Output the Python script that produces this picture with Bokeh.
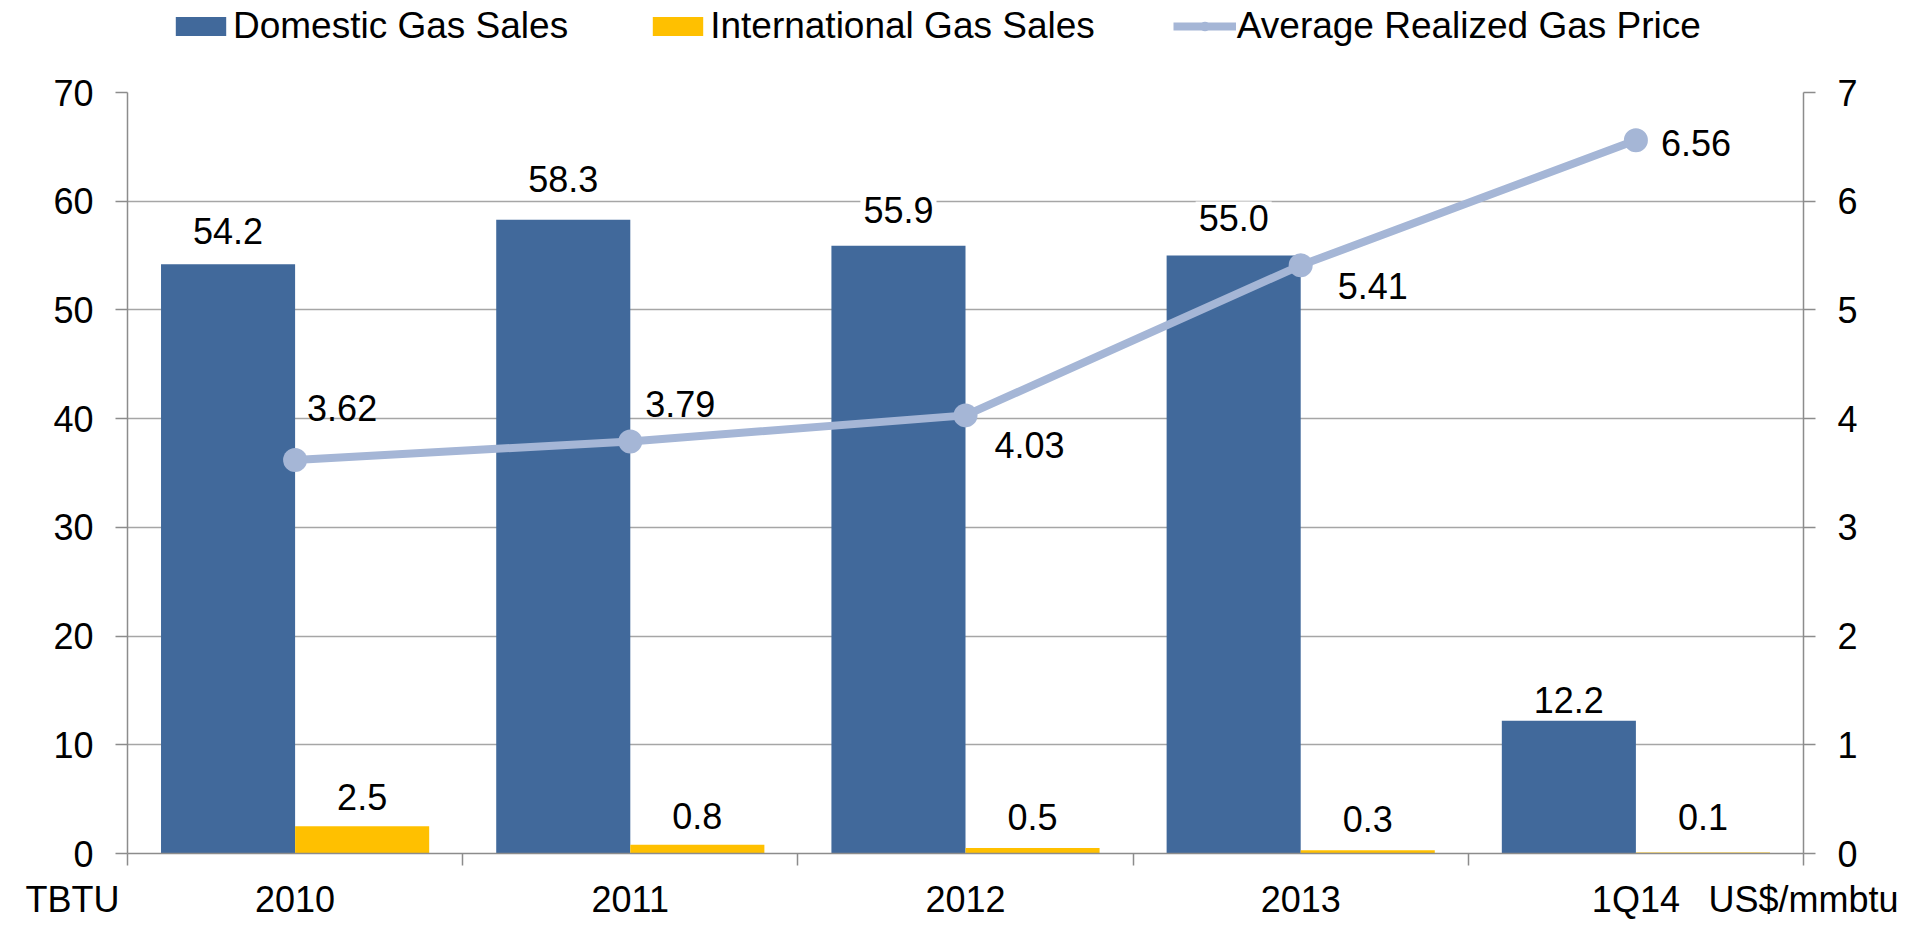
from bokeh.plotting import figure
from bokeh.layouts import column
from bokeh.models import (Range1d, LinearAxis, FixedTicker, Legend, LegendItem,
                          ColumnDataSource)
from bokeh.core.properties import value
from bokeh.embed import file_html
from bokeh.resources import INLINE

# ---- data ----
categories = ["2010", "2011", "2012", "2013", "1Q14"]
domestic = [54.2, 58.3, 55.9, 55.0, 12.2]
international = [2.5, 0.8, 0.5, 0.3, 0.1]
price = [3.62, 3.79, 4.03, 5.41, 6.56]
left_ticks = [0, 10, 20, 30, 40, 50, 60, 70]
right_ticks = [0, 1, 2, 3, 4, 5, 6, 7]
left_unit = "TBTU"
right_unit = "US$/mmbtu"
series_names = ["Domestic Gas Sales", "International Gas Sales", "Average Realized Gas Price"]

# ---- label placement (styles, screen px) ----
dom_gap = [33, 41, 36, 38, 21]
intl_gap = [29, 29, 31, 31, 35]
price_dx = [12, 15, 29, 37, 25]
price_dy = [-52, -37, 30, 21, 3]

DOM_C = "#41699B"
INT_C = "#FFC000"
LINE_C = "#A5B6D6"
GRID_C = "#A6A6A6"
AXIS_C = "#8C8C8C"
FONT = "Liberation Sans"
FS = "36px"

W, H_LEG, H_MAIN = 1927, 62, 868
BL, BR = 127, 124

n = len(categories)
idx = list(range(n))
centers = [i + 0.5 for i in idx]
x_dom = [i + 0.3 for i in idx]
x_int = [i + 0.7 for i in idx]

p = figure(width=W, height=H_MAIN, x_range=Range1d(0, n),
           y_range=Range1d(0, 70), output_backend="svg", toolbar_location=None,
           min_border_left=BL, min_border_right=BR, min_border_top=30,
           min_border_bottom=77)
p.outline_line_color = None
p.background_fill_color = "white"
p.extra_y_ranges = {"price": Range1d(0, 7)}

# bars
src_dom = ColumnDataSource(dict(x=x_dom, top=domestic, lab=[f"{v:.1f}" for v in domestic],
                                gap=[-g for g in dom_gap]))
src_int = ColumnDataSource(dict(x=x_int, top=international, lab=[f"{v:.1f}" for v in international],
                                gap=[-g for g in intl_gap]))
p.vbar(x="x", top="top", width=0.4, bottom=0, source=src_dom,
       fill_color=DOM_C, line_color=None)
p.vbar(x="x", top="top", width=0.4, bottom=0, source=src_int,
       fill_color=INT_C, line_color=None)

# line
src_pr = ColumnDataSource(dict(x=centers, y=price, lab=[f"{v:.2f}" for v in price],
                               dx=price_dx, dy=price_dy))
p.line(x="x", y="y", source=src_pr, y_range_name="price",
       line_color=LINE_C, line_width=8)
p.scatter(x="x", y="y", source=src_pr, y_range_name="price", size=24,
          fill_color=LINE_C, line_color=None)

# labels
for src in (src_dom, src_int):
    p.text(x="x", y="top", text="lab", source=src, y_offset="gap",
           text_align="center", text_baseline="middle",
           text_font=value(FONT), text_font_size=FS, text_color="black",
           background_fill_color="white", padding=3)
p.text(x="x", y="y", text="lab", source=src_pr, y_range_name="price",
       x_offset="dx", y_offset="dy", text_align="left", text_baseline="middle",
       text_font=value(FONT), text_font_size=FS, text_color="black")

# axes: category names at centres, boundary ticks, unit names at the ends
xa = p.xaxis[0]
xa.ticker = FixedTicker(ticks=[0.0] + centers + [float(n)],
                        minor_ticks=[float(i) for i in range(n + 1)])
overrides = {c: lab for c, lab in zip(centers, categories)}
overrides[0.0] = left_unit + "\u00a0" * 11
overrides[float(n)] = right_unit
xa.major_label_overrides = overrides
xa.major_tick_line_color = None
xa.major_tick_in = 0
xa.major_tick_out = 0
xa.minor_tick_in = 0
xa.minor_tick_out = 12
xa.minor_tick_line_color = AXIS_C
xa.minor_tick_line_width = 1.5
xa.axis_line_color = AXIS_C
xa.axis_line_width = 1.5
xa.major_label_standoff = 13
xa.major_label_text_font = FONT
xa.major_label_text_font_size = FS
xa.major_label_text_color = "black"

ya = p.yaxis[0]
ya.ticker = FixedTicker(ticks=left_ticks, minor_ticks=[])
ya.major_tick_in = 0
ya.major_tick_out = 12
ya.major_label_standoff = 22

ra = LinearAxis(y_range_name="price", ticker=FixedTicker(ticks=right_ticks, minor_ticks=[]))
ra.major_tick_in = 0
ra.major_tick_out = 12
ra.major_label_standoff = 22
p.add_layout(ra, "right")

for a in (ya, ra):
    a.minor_tick_line_color = None
    a.major_tick_line_color = AXIS_C
    a.major_tick_line_width = 1.5
    a.axis_line_color = AXIS_C
    a.axis_line_width = 1.5
    a.major_label_text_font = FONT
    a.major_label_text_font_size = FS
    a.major_label_text_color = "black"

p.xgrid.grid_line_color = None
p.ygrid.ticker = FixedTicker(ticks=left_ticks, minor_ticks=[])
p.ygrid.grid_line_color = GRID_C
p.ygrid.grid_line_width = 1.5

# legend strip (its own small figure above the chart, same frame width);
# its ranges keep the series' marks out of view so only the legend shows
nan = float("nan")
lg = figure(width=W, height=H_LEG, x_range=Range1d(0, n), y_range=Range1d(-2, -1),
            output_backend="svg", toolbar_location=None,
            x_axis_location=None, y_axis_location=None,
            min_border_left=BL, min_border_right=BR, min_border_top=0, min_border_bottom=0)
lg.outline_line_color = None
lg.xgrid.visible = False
lg.ygrid.visible = False
k_dom = lg.vbar(x=[nan], top=[nan], width=0.1, fill_color=DOM_C, line_color=None)
k_int = lg.vbar(x=[nan], top=[nan], width=0.1, fill_color=INT_C, line_color=None)
k_line = lg.line(x=[nan], y=[nan], line_color=LINE_C, line_width=8)
k_pts = lg.scatter(x="x", y="y", source=src_pr, size=24, fill_color=LINE_C, line_color=None)

legend = Legend(items=[
    LegendItem(label=series_names[0], renderers=[k_dom]),
    LegendItem(label=series_names[1], renderers=[k_int]),
    LegendItem(label=series_names[2], renderers=[k_line, k_pts]),
], orientation="horizontal", location=(169 - BL, 15), glyph_width=63, glyph_height=24,
    label_standoff=1, spacing=78, padding=0, margin=0, border_line_color=None,
    background_fill_alpha=0, label_text_font=FONT, label_text_font_size="37px",
    label_text_color="black")
lg.add_layout(legend)

layout = column(lg, p, spacing=0)
open("out.html", "w").write(file_html(layout, INLINE))
